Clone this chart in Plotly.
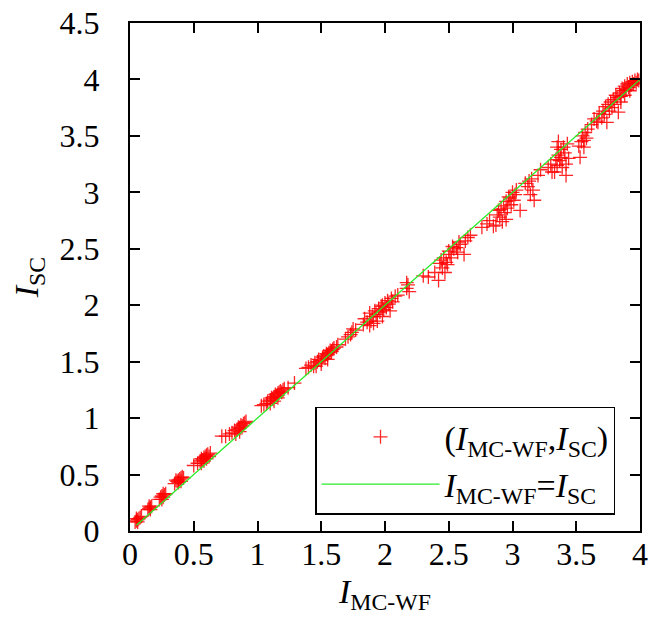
import plotly.graph_objects as go

# Scatter data: (I_MC-WF, I_SC) pairs
pts = [
    (0.04,0.08),(0.05,0.09),(0.06,0.10),(0.07,0.11),(0.08,0.12),(0.06,0.08),(0.09,0.13),(0.05,0.11),
    (0.14,0.19),(0.15,0.20),(0.16,0.21),(0.17,0.22),(0.15,0.22),(0.16,0.19),
    (0.23,0.28),(0.24,0.30),(0.25,0.31),(0.26,0.30),(0.27,0.32),(0.28,0.33),(0.25,0.28),(0.26,0.33),
    (0.35,0.42),(0.37,0.44),(0.38,0.45),(0.39,0.46),(0.40,0.47),(0.41,0.48),(0.42,0.47),(0.38,0.43),(0.36,0.45),(0.40,0.44),
    (0.50,0.58),(0.53,0.60),(0.55,0.62),(0.56,0.64),(0.57,0.63),(0.58,0.65),(0.59,0.66),(0.60,0.67),(0.61,0.68),(0.62,0.66),(0.63,0.69),(0.56,0.60),(0.58,0.62),(0.60,0.64),
    (0.72,0.84),(0.75,0.84),(0.78,0.86),(0.80,0.87),(0.82,0.89),(0.84,0.90),(0.85,0.92),(0.86,0.91),(0.87,0.94),(0.88,0.93),(0.89,0.95),(0.90,0.96),(0.83,0.86),(0.86,0.88),(0.91,0.97),
    (1.03,1.11),(1.05,1.12),(1.07,1.13),(1.08,1.15),(1.10,1.16),(1.11,1.18),(1.12,1.17),(1.13,1.19),(1.14,1.21),(1.15,1.20),(1.16,1.22),(1.17,1.23),(1.18,1.24),(1.19,1.23),(1.20,1.25),(1.21,1.26),(1.10,1.13),(1.13,1.15),(1.16,1.18),(1.24,1.27),(1.29,1.31),
    (1.38,1.44),(1.40,1.45),(1.42,1.47),(1.44,1.46),(1.45,1.49),(1.47,1.50),(1.48,1.52),(1.50,1.51),(1.51,1.54),(1.52,1.55),(1.53,1.53),(1.54,1.57),(1.55,1.56),(1.56,1.58),(1.57,1.60),(1.58,1.59),(1.59,1.61),(1.60,1.62),(1.62,1.63),(1.63,1.65),(1.46,1.46),(1.50,1.48),(1.55,1.52),
    (1.69,1.70),(1.71,1.72),(1.73,1.74),(1.74,1.76),(1.75,1.79),(1.77,1.78),
    (1.83,1.83),(1.84,1.88),(1.86,1.85),(1.88,1.93),(1.89,1.86),(1.90,1.90),(1.92,1.95),(1.93,1.92),(1.95,1.97),(1.96,1.94),(1.97,1.99),(1.98,2.00),(1.99,1.96),(2.00,2.02),(2.01,1.98),(2.02,2.04),(2.03,2.01),(2.05,2.06),(2.06,2.03),(2.08,2.08),(2.10,2.09),(1.88,1.82),(1.94,1.86),(1.98,1.90),(2.04,1.95),(1.91,1.84),
    (2.17,2.15),(2.18,2.18),(2.19,2.12),(2.17,2.20),
    (2.30,2.26),(2.34,2.25),(2.39,2.29),(2.42,2.22),(2.44,2.40),(2.45,2.33),(2.46,2.42),(2.47,2.29),(2.48,2.38),(2.50,2.48),(2.51,2.45),(2.52,2.42),(2.54,2.50),(2.56,2.51),(2.57,2.47),(2.59,2.54),(2.62,2.45),(2.63,2.57),(2.65,2.60),(2.67,2.62),(2.49,2.36),(2.53,2.52),(2.58,2.56),(2.43,2.37),
    (2.76,2.69),(2.80,2.72),(2.82,2.75),(2.85,2.70),(2.87,2.71),(2.88,2.80),(2.90,2.78),(2.91,2.85),(2.92,2.74),(2.93,2.88),(2.94,2.82),(2.95,2.92),(2.96,2.86),(2.97,2.96),(2.98,2.95),(2.99,2.89),(3.00,3.00),(3.01,2.93),(3.02,2.98),(3.03,3.02),(3.06,2.84),(2.95,2.76),(2.89,2.84),
    (3.10,3.08),(3.12,3.05),(3.13,3.10),(3.14,2.98),(3.15,3.12),(3.16,3.02),(3.17,2.93),(3.20,3.15),(3.22,3.20),
    (3.28,3.22),(3.30,3.25),(3.31,3.18),(3.33,3.18),(3.34,3.29),(3.35,3.24),(3.36,3.33),(3.37,3.28),(3.38,3.38),(3.39,3.22),(3.40,3.40),(3.41,3.35),(3.42,3.15),(3.43,3.43),(3.44,3.30),(3.42,3.25),(3.38,3.31),(3.35,3.40),(3.36,3.45),
    (3.52,3.41),(3.53,3.31),(3.54,3.45),(3.55,3.50),(3.56,3.40),(3.57,3.53),(3.58,3.48),(3.59,3.56),(3.56,3.46),
    (3.62,3.60),(3.64,3.65),(3.66,3.63),(3.67,3.62),(3.68,3.70),(3.70,3.66),(3.71,3.72),(3.72,3.69),(3.73,3.76),(3.74,3.62),(3.75,3.78),(3.76,3.72),(3.77,3.80),(3.78,3.75),
    (3.79,3.82),(3.80,3.78),(3.81,3.86),(3.82,3.84),(3.83,3.71),(3.84,3.88),(3.85,3.85),(3.86,3.92),(3.87,3.90),(3.88,3.94),(3.89,3.91),(3.90,3.96),(3.91,3.93),(3.92,3.97),(3.93,3.95),(3.94,3.98),(3.95,3.96),(3.96,3.99),(3.97,3.97),(3.98,4.00),(3.99,3.99),(3.85,3.80),(3.88,3.86),(3.92,3.90),
]
i_mcwf = [p[0] for p in pts]
i_sc = [p[1] for p in pts]

# Reference line I_MC-WF = I_SC
line_x = [0.05, 4.0]
line_y = [0.05, 4.0]

x_ticks = [0, 0.5, 1, 1.5, 2, 2.5, 3, 3.5, 4]
y_ticks = [0, 0.5, 1, 1.5, 2, 2.5, 3, 3.5, 4, 4.5]

FONT = "Liberation Serif, Times New Roman, serif"

fig = go.Figure()
fig.add_trace(go.Scatter(
    x=i_mcwf, y=i_sc, mode="markers",
    name="(<i>I</i><sub>MC-WF</sub>,<i>I</i><sub>SC</sub>)",
    marker=dict(symbol="cross-thin", size=10, color="red",
                line=dict(color="rgba(255,0,0,0.85)", width=1.3)),
))
fig.add_trace(go.Scatter(
    x=line_x, y=line_y, mode="lines",
    name="<i>I</i><sub>MC-WF</sub>=<i>I</i><sub>SC</sub>",
    line=dict(color="rgb(40,235,40)", width=1.3),
))

axis_common = dict(
    showline=True, linecolor="black", linewidth=2, mirror="ticks",
    ticks="inside", ticklen=10, tickwidth=1.5, tickcolor="black",
    showgrid=False, zeroline=False, automargin=False,
    ticklabeloverflow="allow",
    tickfont=dict(family=FONT, size=32, color="black"),
)

fig.update_layout(
    width=663, height=629,
    margin=dict(l=122, r=31, t=15, b=106),
    paper_bgcolor="white", plot_bgcolor="white",
    font=dict(family=FONT, color="black"),
    xaxis=dict(range=[0, 4], tickvals=x_ticks, ticktext=[f"{v:g}" for v in x_ticks],
               ticklabelstandoff=-6,
               title=dict(text="<i>I</i><sub>MC-WF</sub>", font=dict(family=FONT, size=34), standoff=8),
               **axis_common),
    yaxis=dict(range=[0, 4.5], tickvals=y_ticks, ticktext=[f"{v:g}" for v in y_ticks],
               ticklabelstandoff=22,
               title=dict(text="<i>I</i><sub>SC</sub>", font=dict(family=FONT, size=34), standoff=16),
               **axis_common),
    legend=dict(x=0.951, y=0.032, xanchor="right", yanchor="bottom",
                bordercolor="black", borderwidth=1.5, bgcolor="white",
                font=dict(family=FONT, size=34, color="black"),
                itemwidth=118, tracegroupgap=4),
    showlegend=True,
)

fig.write_html("out.html")
